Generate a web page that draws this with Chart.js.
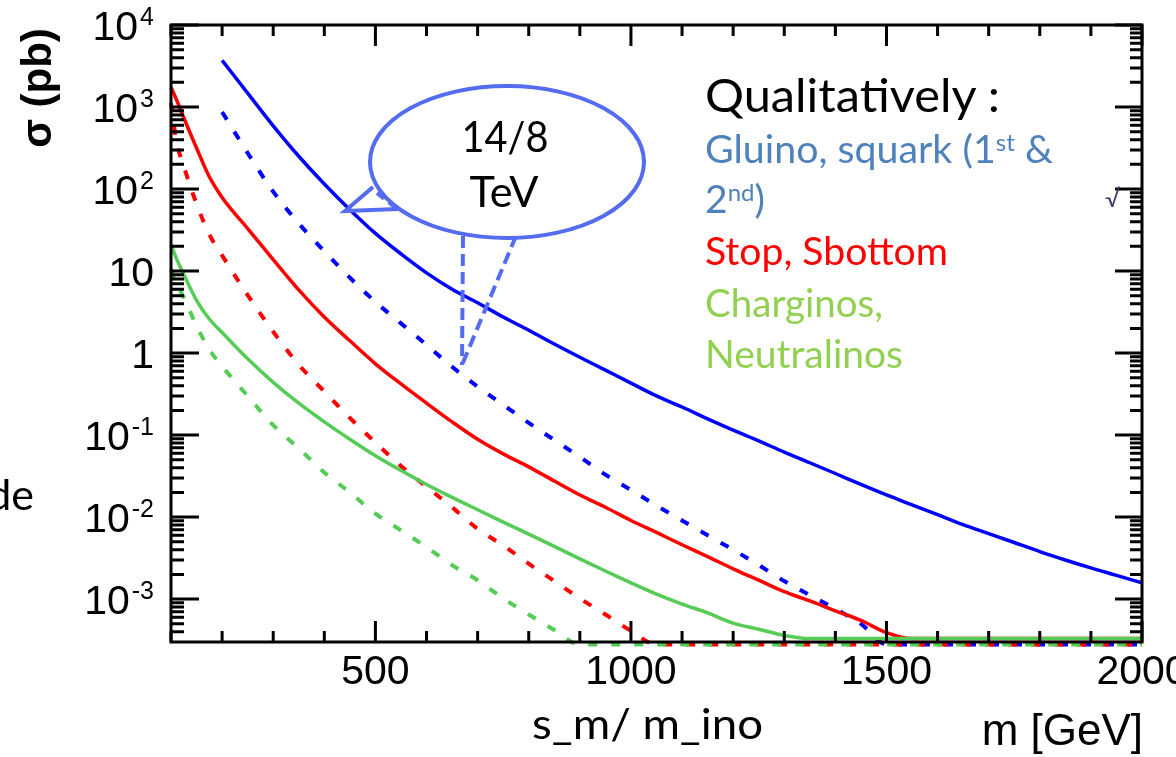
<!DOCTYPE html>
<html>
<head>
<meta charset="utf-8">
<title>SUSY cross sections</title>
<script src="https://cdn.jsdelivr.net/npm/chart.js@4.4.1/dist/chart.umd.min.js"></script>
<style>
  html, body { margin: 0; padding: 0; background: #fff; overflow: hidden; }
  #wrap { position: relative; width: 1176px; height: 757px; }
  #c { position: absolute; left: 0; top: 0; }
  #notes { position: absolute; left: 0; top: 0; }
</style>
</head>
<body>
<div id="wrap">
  <canvas id="c" width="1176" height="757"></canvas>
  <svg id="notes" width="1176" height="757" font-family="Lato, 'Open Sans', sans-serif">
    <!-- axis titles -->
    <text transform="translate(51,88) rotate(-90)" text-anchor="middle" font-family="'Liberation Sans', Arial, sans-serif" font-size="42" font-weight="bold">σ (pb)</text>
    <text x="1143" y="745" text-anchor="end" font-family="'Liberation Sans', Arial, sans-serif" font-size="44">m [GeV]</text>
    <text x="532" y="739" font-size="42" textLength="231" lengthAdjust="spacingAndGlyphs">s_m/ m_ino</text>
    <text x="34" y="510" text-anchor="end" font-size="43">de</text>

    <!-- legend-like notes -->
    <text x="705" y="112" font-size="47" textLength="295" lengthAdjust="spacingAndGlyphs">Qualitatively :</text>
    <text x="705" y="163" font-size="39" fill="#4F81BD" textLength="348" lengthAdjust="spacingAndGlyphs">Gluino, squark (1<tspan dy="-12" font-size="24">st</tspan><tspan dy="12"> &amp;</tspan></text>
    <text x="705" y="213" font-size="39" fill="#4F81BD">2<tspan dy="-12" font-size="24">nd</tspan><tspan dy="12">)</tspan></text>
    <text x="705" y="265" font-size="39" fill="#FF0000" textLength="243" lengthAdjust="spacingAndGlyphs">Stop, Sbottom</text>
    <text x="705" y="317" font-size="39" fill="#92D050" textLength="178" lengthAdjust="spacingAndGlyphs">Charginos,</text>
    <text x="705" y="368" font-size="39" fill="#92D050" textLength="198" lengthAdjust="spacingAndGlyphs">Neutralinos</text>
    <text x="1105" y="207" font-size="24" fill="#3a3a6a">√</text>

    <!-- callout bubble -->
    <g stroke="#546CF0" stroke-width="4" fill="none">
      <line x1="463" y1="236" x2="462" y2="365" stroke-dasharray="12 6"/>
      <line x1="516" y1="236" x2="462" y2="365" stroke-dasharray="12 6"/>
      <polyline points="373,187 345,211 398,209"/>
      <ellipse cx="507" cy="162" rx="137" ry="76" fill="#fff"/>
      <line x1="377" y1="193" x2="396" y2="208" stroke-dasharray="9 6"/>
    </g>
    <text x="505" y="152" text-anchor="middle" font-size="43" textLength="87" lengthAdjust="spacingAndGlyphs">14/8</text>
    <text x="504" y="207" text-anchor="middle" font-size="43" textLength="69" lengthAdjust="spacingAndGlyphs">TeV</text>
  </svg>
</div>

<script>
// sparticle mass (GeV)
const masses = [100, 110, 125, 150, 175,
  200, 250, 300, 350, 400, 450, 500, 550, 600, 650,
  700, 750, 800, 850, 900, 950, 1000, 1050, 1100, 1150,
  1200, 1250, 1300, 1350, 1400, 1450, 1500, 1550, 1600, 1650,
  1700, 1750, 1800, 1850, 1900, 1950, 2000];

// curves that have left the frame run along the bottom edge
const LO_S = 3.3e-4;  // solid curves, just above the axis
const LO_D = 2.8e-4;  // dashed curves, just below the axis

// sigma (pb) - gluino / squark, 14 TeV (solid) and 8 TeV (dashed)
const gluino14 = [null, null, null, null, null,
  3700, 1480, 590, 251, 115, 56, 28.8, 16.2, 9.5, 6.0,
  4.1, 2.75, 1.9, 1.29, 0.89, 0.62, 0.43, 0.30, 0.22, 0.158,
  0.115, 0.085, 0.062, 0.046, 0.034, 0.025, 0.0186, 0.0141, 0.0107, 0.0081,
  0.0063, 0.0049, 0.0038, 0.0030, 0.0024, 0.00195, 0.00158];
const gluino8 = [null, null, null, null, null,
  870, 275, 93, 38, 17.4, 8.3, 4.2, 2.3, 1.26, 0.68,
  0.39, 0.234, 0.141, 0.087, 0.054, 0.033, 0.0214, 0.0138, 0.0091, 0.0060,
  0.0040, 0.0026, 0.00166, 0.00112, 0.00076, 0.00050, LO_D, LO_D, LO_D, LO_D,
  LO_D, LO_D, LO_D, LO_D, LO_D, LO_D, LO_D];

// stop / sbottom
const stop14 = [1740, 1260, 740, 316, 141,
  79, 33, 13.8, 5.9, 2.75, 1.41, 0.74, 0.42, 0.245, 0.145,
  0.089, 0.059, 0.041, 0.0275, 0.0186, 0.0132, 0.0091, 0.0065, 0.0046, 0.0033,
  0.00234, 0.0017, 0.00123, 0.00095, 0.00072, 0.00055, 0.00039, LO_S, LO_S, LO_S,
  LO_S, LO_S, LO_S, LO_S, LO_S, LO_S, LO_S];
const stop8 = [1120, 400, 190, 66, 28,
  15.5, 5.1, 1.82, 0.72, 0.34, 0.162, 0.081, 0.042, 0.0234, 0.0132,
  0.0072, 0.0045, 0.0027, 0.00166, 0.00102, 0.00065, 0.00041, LO_D, LO_D, LO_D,
  LO_D, LO_D, LO_D, LO_D, LO_D, LO_D, LO_D, LO_D, LO_D, LO_D,
  LO_D, LO_D, LO_D, LO_D, LO_D, LO_D, LO_D];

// charginos / neutralinos
const gaugino14 = [20.9, 14.5, 9.1, 4.4, 2.6,
  1.78, 0.85, 0.44, 0.245, 0.145, 0.089, 0.056, 0.037, 0.025, 0.0174,
  0.0123, 0.0087, 0.0062, 0.0044, 0.0031, 0.0022, 0.00158, 0.00115, 0.00087, 0.00068,
  0.00051, 0.00043, 0.00036, LO_S, LO_S, LO_S, LO_S, LO_S, LO_S, LO_S,
  LO_S, LO_S, LO_S, LO_S, LO_S, LO_S, LO_S];
const gaugino8 = [10.5, 7.2, 4.8, 2.14, 1.10,
  0.69, 0.30, 0.132, 0.069, 0.035, 0.020, 0.011, 0.0069, 0.0043, 0.0026,
  0.0017, 0.00102, 0.00065, 0.00042, LO_D, LO_D, LO_D, LO_D, LO_D, LO_D,
  LO_D, LO_D, LO_D, LO_D, LO_D, LO_D, LO_D, LO_D, LO_D, LO_D,
  LO_D, LO_D, LO_D, LO_D, LO_D, LO_D, LO_D];

// axes
const X_MIN = 100, X_MAX = 2000;
const Y_MIN = 3.1e-4, Y_MAX = 1e4;
const xTickLabels = [500, 1000, 1500, 2000];
const yTickExponents = [-3, -2, -1, 0, 1, 2, 3, 4];

const BLUE = '#0000FF';
const RED = '#FF0000';
const GREEN = '#55CC55';

function curve(label, values, color, dashed, order) {
  const pts = [];
  values.forEach((v, i) => { if (v !== null) pts.push({ x: masses[i], y: v }); });
  return {
    label: label,
    data: pts,
    order: order,
    borderColor: color,
    borderWidth: dashed ? 4 : 3.5,
    borderDash: dashed ? [9, 14] : [],
    cubicInterpolationMode: 'monotone',
    pointRadius: 0,
    fill: false,
    clip: dashed ? { left: 2, top: 2, right: 2, bottom: 6 } : 2
  };
}

// frame with inward ticks and the tick labels, all placed by the chart's scales
const frameAndTicks = {
  id: 'frameAndTicks',
  afterDatasetsDraw(chart) {
    const ctx = chart.ctx;
    const a = chart.chartArea;
    const xs = chart.scales.x, ys = chart.scales.y;
    ctx.save();
    ctx.strokeStyle = '#000';
    ctx.lineWidth = 3;
    ctx.beginPath();
    for (let m = X_MIN; m <= X_MAX; m += 100) {
      const px = xs.getPixelForValue(m);
      const len = m % 500 === 0 ? 21 : 11;
      ctx.moveTo(px, a.bottom); ctx.lineTo(px, a.bottom - len);
      ctx.moveTo(px, a.top); ctx.lineTo(px, a.top + len);
    }
    for (let e = -4; e <= 4; e++) {
      for (let s = 1; s <= 9; s++) {
        const v = s * Math.pow(10, e);
        if (v < Y_MIN || v > Y_MAX * 1.0001) continue;
        const py = ys.getPixelForValue(v);
        const major = s === 1;
        ctx.moveTo(a.left, py); ctx.lineTo(a.left + (major ? 28 : 13), py);
        ctx.moveTo(a.right, py); ctx.lineTo(a.right - (major ? 27 : 12), py);
      }
    }
    ctx.stroke();
    ctx.strokeRect(a.left, a.top, a.right - a.left, a.bottom - a.top);

    // labels
    ctx.fillStyle = '#000';
    ctx.textBaseline = 'alphabetic';
    ctx.font = '41px "Liberation Sans", Arial, sans-serif';
    ctx.textAlign = 'center';
    xTickLabels.forEach(v => {
      ctx.fillText(String(v), xs.getPixelForValue(v), a.bottom + 42);
    });

    const right = a.left - 17;
    ctx.textAlign = 'right';
    yTickExponents.forEach(k => {
      const py = ys.getPixelForValue(Math.pow(10, k));
      if (k === 0 || k === 1) {
        ctx.font = '41px "Liberation Sans", Arial, sans-serif';
        ctx.fillText(k === 0 ? '1' : '10', right, py + 15);
        return;
      }
      const sup = String(k);
      ctx.font = '25px "Liberation Sans", Arial, sans-serif';
      const w = ctx.measureText(sup).width;
      ctx.fillText(sup, right, py);
      ctx.font = '41px "Liberation Sans", Arial, sans-serif';
      ctx.fillText('10', right - w - 2, py + 15);
    });
    ctx.restore();
  }
};

new Chart(document.getElementById('c'), {
  type: 'line',
  data: {
    datasets: [
      curve('Gluino, squark 14 TeV', gluino14, BLUE, false, 2),
      curve('Gluino, squark 8 TeV', gluino8, BLUE, true, 2),
      curve('Stop, sbottom 14 TeV', stop14, RED, false, 1),
      curve('Stop, sbottom 8 TeV', stop8, RED, true, 1),
      curve('Charginos, neutralinos 14 TeV', gaugino14, GREEN, false, 0),
      curve('Charginos, neutralinos 8 TeV', gaugino8, GREEN, true, 0)
    ]
  },
  options: {
    responsive: false,
    animation: false,
    devicePixelRatio: 1,
    layout: { padding: { left: 171, top: 25, right: 34, bottom: 115 } },
    plugins: {
      legend: { display: false },
      tooltip: { enabled: false }
    },
    scales: {
      x: { type: 'linear', min: X_MIN, max: X_MAX, display: false },
      y: { type: 'logarithmic', min: Y_MIN, max: Y_MAX, display: false }
    }
  },
  plugins: [frameAndTicks]
});
</script>
</body>
</html>
